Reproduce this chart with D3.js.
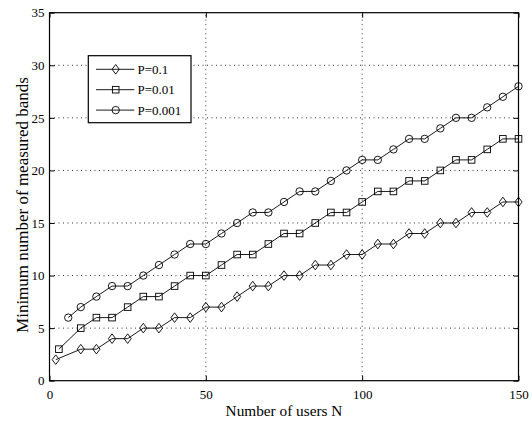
<!DOCTYPE html>
<html><head><meta charset="utf-8">
<script src="https://cdn.jsdelivr.net/npm/d3@7"></script>
<style>body{margin:0;background:#fff}svg{display:block}text{font-family:"Liberation Serif","Times New Roman",serif;fill:#000}</style>
</head><body>
<script>
const xP1 = [2,10,15,20,25,30,35,40,45,50,55,60,65,70,75,80,85,90,95,100,105,110,115,120,125,130,135,140,145,150];
const yP1 = [2,3,3,4,4,5,5,6,6,7,7,8,9,9,10,10,11,11,12,12,13,13,14,14,15,15,16,16,17,17];
const xP2 = [3,10,15,20,25,30,35,40,45,50,55,60,65,70,75,80,85,90,95,100,105,110,115,120,125,130,135,140,145,150];
const yP2 = [3,5,6,6,7,8,8,9,10,10,11,12,12,13,14,14,15,16,16,17,18,18,19,19,20,21,21,22,23,23];
const xP3 = [6,10,15,20,25,30,35,40,45,50,55,60,65,70,75,80,85,90,95,100,105,110,115,120,125,130,135,140,145,150];
const yP3 = [6,7,8,9,9,10,11,12,13,13,14,15,16,16,17,18,18,19,20,21,21,22,23,23,24,25,25,26,27,28];
const seriesNames = ["P=0.1","P=0.01","P=0.001"];
const xTicks = [0,50,100,150];
const yTicks = [0,5,10,15,20,25,30,35];
const xTitle = "Number of users N";
const yTitle = "Minimum number of measured bands";

const W=532,H=423;
const L=49.5,R=518.5,T=12.7,B=380.7;
const svg=d3.select("body").append("svg").attr("width",W).attr("height",H);
const x=d3.scaleLinear().domain([0,150]).range([L,R]);
const y=d3.scaleLinear().domain([0,35]).range([B,T]);

// grid
const g=svg.append("g").attr("stroke","#000").attr("stroke-width",0.8).attr("stroke-dasharray","1,3.5");
xTicks.slice(1,-1).forEach(v=>g.append("line").attr("x1",x(v)).attr("x2",x(v)).attr("y1",B).attr("y2",T));
yTicks.slice(1,-1).forEach(v=>g.append("line").attr("y1",y(v)).attr("y2",y(v)).attr("x1",L).attr("x2",R));

// axes with inward ticks
const tk=5;
svg.append("g").attr("transform",`translate(0,${B})`).call(d3.axisBottom(x).tickValues(xTicks).tickSizeInner(-tk).tickSizeOuter(0).tickPadding(9)).call(a=>{a.select(".domain").remove();a.selectAll("text").attr("font-size",13);});
svg.append("g").attr("transform",`translate(0,${T})`).call(d3.axisTop(x).tickValues(xTicks).tickSizeInner(-tk).tickSizeOuter(0).tickFormat("")).call(a=>a.select(".domain").remove());
svg.append("g").attr("transform",`translate(${L},0)`).call(d3.axisLeft(y).tickValues(yTicks).tickSizeInner(-tk).tickSizeOuter(0).tickPadding(5)).call(a=>{a.select(".domain").remove();a.selectAll("text").attr("font-size",13);});
svg.append("g").attr("transform",`translate(${R},0)`).call(d3.axisRight(y).tickValues(yTicks).tickSizeInner(-tk).tickSizeOuter(0).tickFormat("")).call(a=>a.select(".domain").remove());
svg.selectAll(".tick line").attr("stroke","#000");
svg.append("rect").attr("x",L).attr("y",T).attr("width",R-L).attr("height",B-T).attr("fill","none").attr("stroke","#000").attr("stroke-width",1.2);

// markers
function marker(sel,type,cx,cy){
  if(type===0) sel.append("path").attr("d",`M${cx},${cy-4.8}L${cx+3.6},${cy}L${cx},${cy+4.8}L${cx-3.6},${cy}Z`);
  else if(type===1) sel.append("rect").attr("x",cx-3.3).attr("y",cy-3.3).attr("width",6.6).attr("height",6.6);
  else sel.append("circle").attr("cx",cx).attr("cy",cy).attr("r",3.7);
}
const xs=[xP1,xP2,xP3], ys=[yP1,yP2,yP3];
const line=d3.line().x(d=>x(d[0])).y(d=>y(d[1]));
xs.forEach((xv,i)=>{
  const pts=xv.map((v,j)=>[v,ys[i][j]]);
  svg.append("path").attr("d",line(pts)).attr("fill","none").attr("stroke","#000").attr("stroke-width",0.9);
  const mg=svg.append("g").attr("fill","none").attr("stroke","#000").attr("stroke-width",0.9);
  pts.forEach(p=>marker(mg,i,x(p[0]),y(p[1])));
});

// legend
const lg=svg.append("g");
lg.append("rect").attr("x",88.3).attr("y",55.7).attr("width",102.7).attr("height",67).attr("fill","#fff").attr("stroke","#000").attr("stroke-width",1.2);
seriesNames.forEach((n,i)=>{
  const yy=69.3+i*20.4;
  lg.append("line").attr("x1",96).attr("x2",134.3).attr("y1",yy).attr("y2",yy).attr("stroke","#000").attr("stroke-width",0.9);
  const mg=lg.append("g").attr("fill","none").attr("stroke","#000").attr("stroke-width",0.9);
  marker(mg,i,115.7,yy);
  lg.append("text").attr("x",137.5).attr("y",yy+4.5).attr("font-size",13).text(n);
});

svg.append("text").attr("x",(L+R)/2).attr("y",416).attr("text-anchor","middle").attr("font-size",15.3).text(xTitle);
svg.append("text").attr("transform",`translate(28,205) rotate(-90)`).attr("text-anchor","middle").attr("font-size",17).text(yTitle);
</script>
</body></html>
